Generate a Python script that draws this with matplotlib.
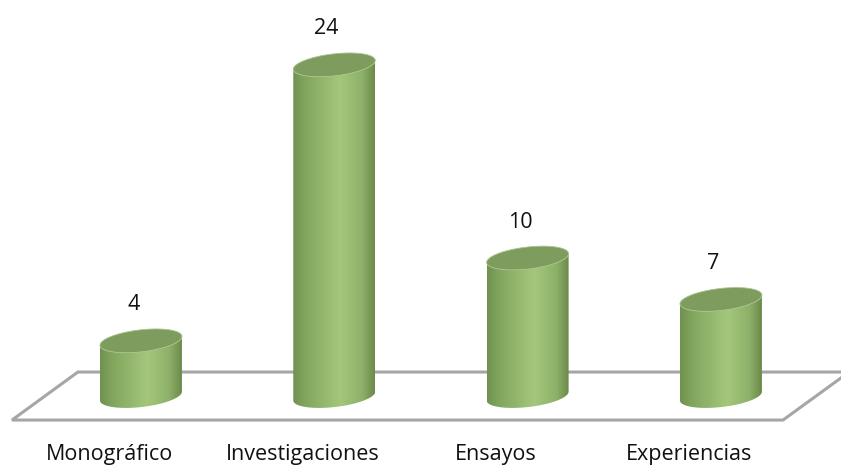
import numpy as np
import matplotlib
matplotlib.use("Agg")
import matplotlib.pyplot as plt
from matplotlib.patches import Polygon
from matplotlib.colors import LinearSegmentedColormap

# data
categories = ["Monográfico", "Investigaciones", "Ensayos", "Experiencias"]
values = [4, 24, 10, 7]

plt.rcParams["font.family"] = ["Open Sans", "DejaVu Sans"]

fig = plt.figure(figsize=(8.41, 4.66), dpi=100)
ax = fig.add_axes([0, 0, 1, 1])
ax.set_axis_off()

# cylinder geometry (data units)
half_w = 0.212      # half width in category units
rim_b = 0.8         # half height of the top/bottom ellipse
shear = 1.5         # tilt of the ellipses
n_pts = 80

side_cmap = LinearSegmentedColormap.from_list("side", [
    (0.00, (0.44, 0.57, 0.31)),
    (0.15, (0.51, 0.65, 0.37)),
    (0.58, (0.64, 0.78, 0.48)),
    (0.85, (0.55, 0.69, 0.41)),
    (1.00, (0.42, 0.54, 0.29)),
])


def ellipse_pts(cx, cy, t0, t1):
    t = np.linspace(t0, t1, n_pts)
    x = cx + half_w * np.cos(t)
    y = cy + rim_b * np.sin(t) + shear * half_w * np.cos(t)
    return np.column_stack([x, y])


# floor
floor = Polygon([(-0.667, -1.74), (3.321, -1.74), (3.663, 1.74), (-0.326, 1.74)],
                closed=True, facecolor="white", edgecolor="#a6a6a6", lw=2.2, zorder=1)
ax.add_patch(floor)

grad = np.linspace(0, 1, 256).reshape(1, -1)

for i, v in enumerate(values):
    cx = i
    bottom = ellipse_pts(cx, 0, np.pi, 2 * np.pi)
    top_front = ellipse_pts(cx, v, 2 * np.pi, np.pi)
    body = Polygon(np.vstack([bottom, top_front]), closed=True,
                   facecolor="none", edgecolor="none", zorder=2)
    ax.add_patch(body)
    im = ax.imshow(grad, cmap=side_cmap, aspect="auto", interpolation="bilinear",
                   extent=[cx - half_w, cx + half_w, -2, v + 2], zorder=2)
    im.set_clip_path(body)

    top = Polygon(ellipse_pts(cx, v, 0, 2 * np.pi), closed=True,
                  facecolor="#7d9c5d", edgecolor="#a9c48b", lw=0.6, zorder=3)
    ax.add_patch(top)

    ax.text(cx - 0.04, v + 2.6, str(v), ha="center", va="center",
            fontsize=15.5, color="#111111")
    ax.text(cx - 0.165, -4.6, categories[i], ha="center", va="baseline",
            fontsize=15.5, color="#111111")

ax.set_xlim(-0.729, 3.621)
ax.set_ylim(-5.07, 28.7)

fig.savefig("out.png", dpi=100, facecolor="white")
